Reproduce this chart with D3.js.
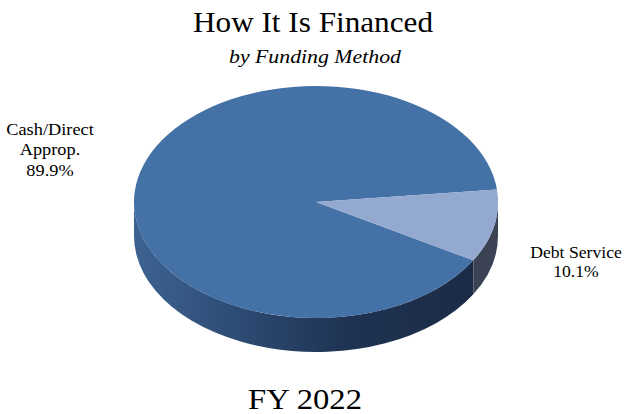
<!doctype html>
<html>
<head>
<meta charset="utf-8"/>
<title>How It Is Financed</title>
<script src="https://d3js.org/d3.v7.min.js"></script>
<style>
body { margin:0; background:#fff; }
text { font-family:"Liberation Serif","Times New Roman",serif; fill:#000; }
</style>
</head>
<body>
<script>
// data
var categories = ["Cash/Direct Approp.", "Debt Service"];
var values = [89.9, 10.1];
var labelLines = [["Cash/Direct", "Approp.", "89.9%"], ["Debt Service", "10.1%"]];
var topColors = ["#4471a6", "#93a9d0"];

var W = 624, H = 414;
var cx = 316, cy = 202, rx = 182, ry = 116, depth = 34;

var svg = d3.select("body").append("svg")
  .attr("width", W).attr("height", H);

var defs = svg.append("defs");
var grad = defs.append("linearGradient").attr("id", "wall")
  .attr("gradientUnits", "userSpaceOnUse")
  .attr("x1", cx - rx).attr("x2", cx + rx).attr("y1", 0).attr("y2", 0);
grad.append("stop").attr("offset", "0%").attr("stop-color", "#3d6391");
grad.append("stop").attr("offset", "30%").attr("stop-color", "#2c4a72");
grad.append("stop").attr("offset", "60%").attr("stop-color", "#1e3251");
grad.append("stop").attr("offset", "100%").attr("stop-color", "#1a2a44");

var sideColors = ["url(#wall)", "#3a4254"];

var start = 120.2 * Math.PI / 180;
var pie = d3.pie().sort(null).startAngle(start).endAngle(start + 2 * Math.PI);
var arcs = pie(values);

function pt(a, dy) {
  return [cx + rx * Math.sin(a), cy - ry * Math.cos(a) + (dy || 0)];
}

// visible side walls (front half of ellipse)
var walls = [];
arcs.forEach(function(d, i) {
  for (var k = -1; k <= 2; k++) {
    var lo = Math.max(d.startAngle, Math.PI / 2 + 2 * Math.PI * k);
    var hi = Math.min(d.endAngle, 3 * Math.PI / 2 + 2 * Math.PI * k);
    if (hi > lo) walls.push({a0: lo, a1: hi, i: i});
  }
});

svg.selectAll("path.wall").data(walls).enter().append("path")
  .attr("class", "wall")
  .attr("fill", function(d) { return sideColors[d.i]; })
  .attr("d", function(d) {
    var p0 = pt(d.a0), p1 = pt(d.a1), q1 = pt(d.a1, depth), q0 = pt(d.a0, depth);
    var large = (d.a1 - d.a0) > Math.PI ? 1 : 0;
    return "M" + p0 + "A" + rx + "," + ry + " 0 " + large + " 1 " + p1 +
      "L" + q1 + "A" + rx + "," + ry + " 0 " + large + " 0 " + q0 + "Z";
  });

// top face
svg.selectAll("path.top").data(arcs).enter().append("path")
  .attr("class", "top")
  .attr("fill", function(d, i) { return topColors[i]; })
  .attr("d", function(d) {
    var p0 = pt(d.startAngle), p1 = pt(d.endAngle);
    var large = (d.endAngle - d.startAngle) > Math.PI ? 1 : 0;
    return "M" + cx + "," + cy + "L" + p0 + "A" + rx + "," + ry + " 0 " + large + " 1 " + p1 + "Z";
  });

// titles (the reference text is a bit stretched sideways)
svg.append("text").attr("x", 313).attr("y", 32).attr("text-anchor", "middle")
  .attr("textLength", 240).attr("lengthAdjust", "spacingAndGlyphs")
  .style("font-size", "30px").text("How It Is Financed");
svg.append("text").attr("x", 315).attr("y", 63).attr("text-anchor", "middle")
  .attr("textLength", 172).attr("lengthAdjust", "spacingAndGlyphs")
  .style("font-size", "18px").style("font-style", "italic").text("by Funding Method");
svg.append("text").attr("x", 305).attr("y", 409).attr("text-anchor", "middle")
  .attr("textLength", 114).attr("lengthAdjust", "spacingAndGlyphs")
  .style("font-size", "29px").text("FY 2022");

// slice labels
var labelPos = [[50, 135], [576, 258]];
var lineH = [20.5, 19];
var labelSx = [1.11, 1.07];
labelLines.forEach(function(lines, i) {
  var t = svg.append("text").attr("text-anchor", "middle")
    .attr("transform", "translate(" + labelPos[i][0] + "," + labelPos[i][1] + ") scale(" + labelSx[i] + ",1)")
    .style("font-size", "16.5px");
  lines.forEach(function(s, j) {
    t.append("tspan").attr("x", 0).attr("y", j * lineH[i]).text(s);
  });
});
</script>
</body>
</html>
